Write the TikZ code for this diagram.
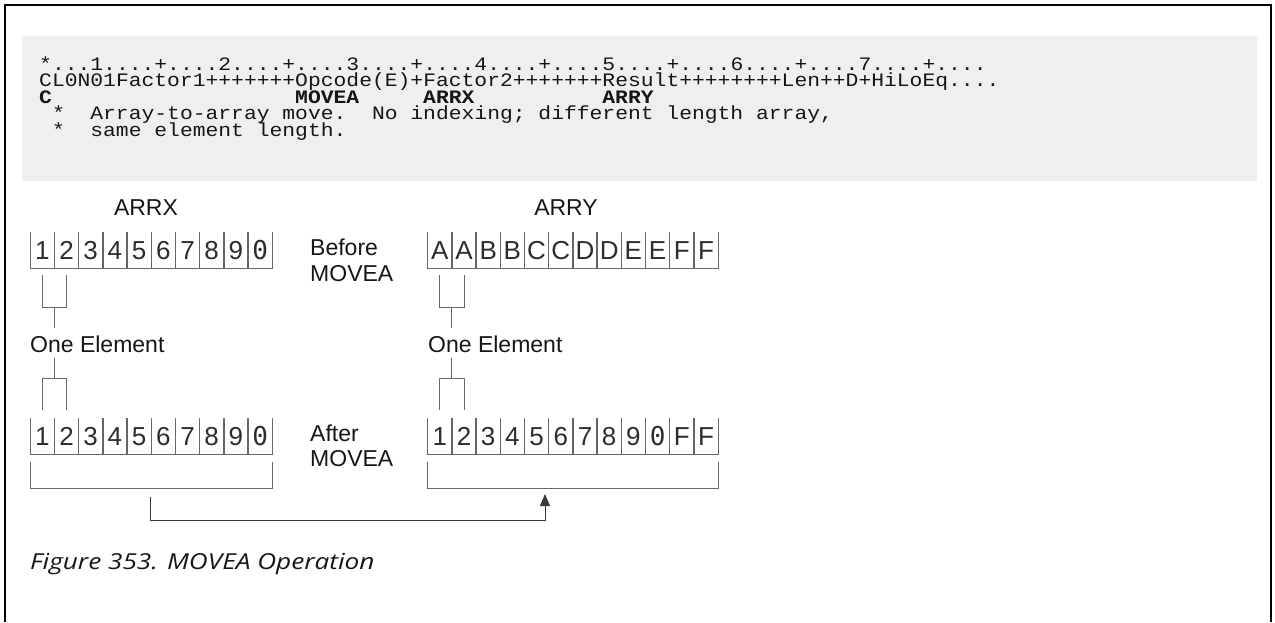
\documentclass[tikz,border=0pt]{standalone}
\usepackage{fontspec}
\usetikzlibrary{arrows.meta}
\setmainfont{Liberation Sans}
\newfontfamily\codefont[FakeStretch=1.123]{Liberation Mono}
\newfontfamily\capfont[FakeStretch=1.19]{Open Sans}
\newfontfamily\zerofont{DejaVu Sans Mono}
\definecolor{codebg}{HTML}{EFEFEF}
\definecolor{ink}{HTML}{161616}
\definecolor{rulegray}{HTML}{666666}
\newlength\cw
\setlength\cw{12.8pt}
\newcommand\spc[1]{\hspace*{#1\cw}}
\begin{document}
\begin{tikzpicture}[x=1pt,y=-1pt,
  codeline/.style={anchor=base west, inner sep=0pt, text=ink, font=\codefont\fontsize{19}{19}\selectfont},
  lbl/.style={inner sep=0pt, text=ink, font=\fontsize{23}{23}\selectfont},
  cell/.style={minimum width=24.2pt, minimum height=36pt, inner sep=0pt, anchor=north west,
    text height=18pt, text depth=0pt, text=ink!90, font=\fontsize{26}{26}\selectfont},
  cellline/.style={draw=rulegray, line width=1pt},
  br/.style={draw=rulegray, line width=1pt},
  conn/.style={draw=ink!85, line width=1pt, -{Triangle[width=10pt,length=12pt]}}]
\useasboundingbox (0,0) rectangle (1275,622);
% frame
\draw[line width=2.6pt, black] (5,622) -- (5,5) -- (1271,5) -- (1271,622);
% code block
\fill[codebg] (22,36) rectangle (1257,181);
\node[codeline] (c1) at (39,70) {*...1....+....2....+....3....+....4....+....5....+....6....+....7....+....};
\node[codeline] (c2) at (39,86.5) {CL0N01Factor1+++++++Opcode(E)+Factor2+++++++Result++++++++Len++D+HiLoEq....};
\node[codeline] (c3) at (39,103) {\bfseries C\spc{19}MOVEA\spc{5}ARRX\spc{10}ARRY};
\node[codeline] (c4) at (39,119.5) {\spc{1}*\spc{2}Array-to-array move.\spc{2}No indexing; different length array,};
\node[codeline] (c5) at (39,136) {\spc{1}*\spc{2}same element length.};
% titles
\node[lbl] (tx) at (146,208) {ARRX};
\node[lbl] (ty) at (566,208) {ARRY};
% before arrays
\foreach \l [count=\i] in {1,2,3,4,5,6,7,8,9,{\zerofont 0}}
  \node[cell] (bx\i) at ({30+(\i-1)*24.2},232) {\l};
\foreach \l [count=\i] in {A,A,B,B,C,C,D,D,E,E,F,F}
  \node[cell] (by\i) at ({427.5+(\i-1)*24.2},232) {\l};
% after arrays
\foreach \l [count=\i] in {1,2,3,4,5,6,7,8,9,{\zerofont 0}}
  \node[cell] (ax\i) at ({30+(\i-1)*24.2},418) {\l};
\foreach \l [count=\i] in {1,2,3,4,5,6,7,8,9,{\zerofont 0},F,F}
  \node[cell] (ay\i) at ({427.5+(\i-1)*24.2},418) {\l};
\foreach \n in {bx,ax} \foreach \i in {1,...,10}
  \draw[cellline] (\n\i.north west) -- (\n\i.south west) -- (\n\i.south east) -- (\n\i.north east);
\foreach \n in {by,ay} \foreach \i in {1,...,12}
  \draw[cellline] (\n\i.north west) -- (\n\i.south west) -- (\n\i.south east) -- (\n\i.north east);
% labels
\node[lbl, anchor=base west] (bef) at (310,255) {Before};
\node[lbl, anchor=base west] (bmv) at (310,281) {MOVEA};
\node[lbl, anchor=base west] (aft) at (310,441) {After};
\node[lbl, anchor=base west] (amv) at (310,466) {MOVEA};
\node[lbl, anchor=base west] (oex) at (30,352) {One Element};
\node[lbl, anchor=base west] (oey) at (428,352) {One Element};
% element brackets
\foreach \n/\m in {bx/ax,by/ay}{
  \draw[br] ([yshift=-7pt]\n1.south) |- ([yshift=-39pt]\n2.south) -- ([yshift=-7pt]\n2.south);
  \draw[br] ([yshift=8pt]\m1.north) |- ([yshift=40pt]\m2.north) -- ([yshift=8pt]\m2.north);
}
\coordinate (sx1) at (54.2,307); \coordinate (sx2) at (54.2,328);
\coordinate (sx3) at (54.2,358); \coordinate (sx4) at (54.2,378);
\coordinate (sy1) at (451.7,307); \coordinate (sy2) at (451.7,328);
\coordinate (sy3) at (451.7,358); \coordinate (sy4) at (451.7,378);
\draw[br] (sx1) -- (sx2); \draw[br] (sx3) -- (sx4);
\draw[br] (sy1) -- (sy2); \draw[br] (sy3) -- (sy4);
% braces under after arrays
\draw[br] ([yshift=-8pt]ax1.south west) -- ([yshift=-34pt]ax1.south west) -- ([yshift=-34pt]ax10.south east) -- ([yshift=-8pt]ax10.south east);
\draw[br] ([yshift=-8pt]ay1.south west) -- ([yshift=-34pt]ay1.south west) -- ([yshift=-34pt]ay12.south east) -- ([yshift=-8pt]ay12.south east);
\coordinate (fromx) at (150,497);
\coordinate (toy) at (545,494);
\draw[conn] (fromx) |- (545,520) -- (toy);
% caption
\node[anchor=base west, inner sep=0pt, text=ink, font=\capfont\itshape\fontsize{22}{22}\selectfont] (cap) at (30,569) {Figure 353. MOVEA Operation};
\end{tikzpicture}
\end{document}
